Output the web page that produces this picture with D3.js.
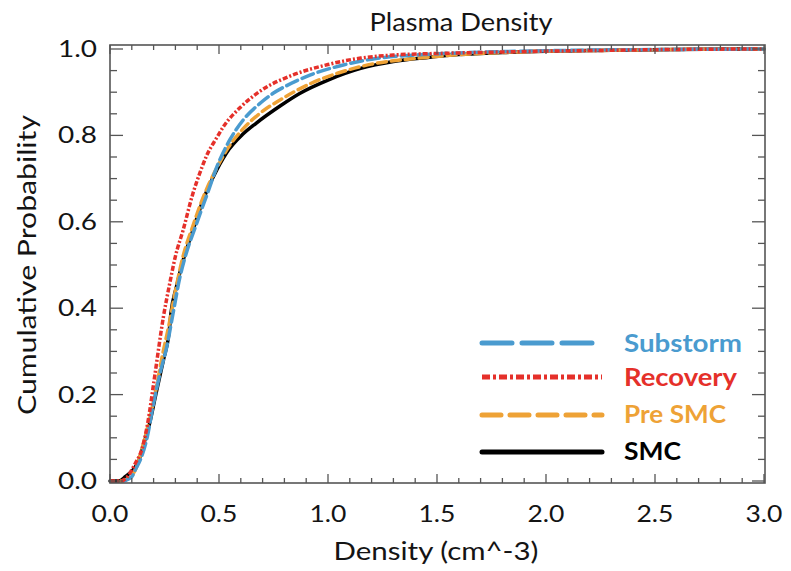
<!DOCTYPE html>
<html><head><meta charset="utf-8">
<script src="https://cdn.jsdelivr.net/npm/d3@7"></script>
<style>
body{margin:0;background:#fff;}
text{font-family:Lato,"Open Sans",sans-serif;}
</style></head>
<body><svg id="c" width="791" height="571"></svg>
<script>
const seriesNames = ["SMC","Pre SMC","Substorm","Recovery"];
const smcX = [0,0.04,0.07,0.13,0.16,0.18,0.21,0.245,0.27,0.28,0.305,0.335,0.38,0.427,0.47,0.535,0.61,0.67,0.78,0.87,1.0,1.15,1.3,1.45,1.6,1.8,2.0,2.3,2.6,3.0];
const smcP = [0,0,0.01,0.045,0.095,0.13,0.20,0.28,0.34,0.39,0.45,0.51,0.58,0.65,0.70,0.76,0.803,0.828,0.868,0.897,0.928,0.955,0.971,0.98,0.987,0.992,0.995,0.997,0.999,1.0];
const preX = [0.05,0.08,0.12,0.15,0.18,0.21,0.24,0.27,0.30,0.335,0.38,0.43,0.48,0.54,0.61,0.69,0.78,0.92,1.05,1.2,1.4,1.6,1.8,2.0,2.3,2.6,3.0];
const preP = [0,0.005,0.03,0.08,0.14,0.21,0.29,0.36,0.44,0.52,0.59,0.66,0.715,0.77,0.815,0.852,0.882,0.92,0.945,0.965,0.978,0.987,0.992,0.995,0.997,0.999,1.0];
const subX = [0.06,0.1,0.12,0.14,0.17,0.20,0.23,0.26,0.29,0.32,0.34,0.40,0.45,0.49,0.55,0.61,0.69,0.75,0.81,0.92,1.07,1.22,1.4,1.6,1.8,2.0,2.3,2.6,3.0];
const subP = [0,0.01,0.03,0.05,0.10,0.18,0.25,0.31,0.39,0.47,0.51,0.60,0.67,0.727,0.79,0.835,0.875,0.898,0.915,0.94,0.963,0.978,0.986,0.991,0.994,0.996,0.998,0.999,1.0];
const recX = [0,0.05,0.08,0.115,0.147,0.175,0.2,0.245,0.275,0.30,0.335,0.38,0.41,0.445,0.49,0.52,0.6,0.69,0.84,1.0,1.15,1.3,1.53,1.8,2.0,2.3,2.6,3.0];
const recP = [0,0,0.01,0.04,0.075,0.14,0.225,0.38,0.46,0.52,0.58,0.665,0.71,0.755,0.795,0.82,0.866,0.903,0.94,0.964,0.979,0.986,0.99,0.993,0.995,0.997,0.999,1.0];
const xTicks = [0,0.5,1.0,1.5,2.0,2.5,3.0];
const yTicks = [0,0.2,0.4,0.6,0.8,1.0];

(function(){
const svg = d3.select("#c");
const x = d3.scaleLinear().domain([0,3]).range([110,764]);
const y = d3.scaleLinear().domain([0,1]).range([481,49]);
const fTop = 45, fBottom = 483, fLeft = 110, fRight = 765;

const styles = {
  "SMC": {color:"#000000", dash:null, legDash:null, cap:"round", text:"#000000"},
  "Pre SMC": {color:"#EEA236", dash:"9,5", legDash:"19,9", cap:"round", text:"#EEA236"},
  "Substorm": {color:"#4A9BCF", dash:"12,5", legDash:"30,10", cap:"round", text:"#4A9BCF"},
  "Recovery": {color:"#E5302A", dash:"5,2,2,2", legDash:"8,3,3,3", cap:"butt", text:"#E5302A"}
};
const data = {
  "SMC": d3.zip(smcX, smcP),
  "Pre SMC": d3.zip(preX, preP),
  "Substorm": d3.zip(subX, subP),
  "Recovery": d3.zip(recX, recP)
};

const line = d3.line().x(d=>x(d[0])).y(d=>y(d[1])).curve(d3.curveMonotoneX);
seriesNames.forEach(n=>{
  const s = styles[n];
  svg.append("path").attr("d", line(data[n])).attr("fill","none")
    .attr("stroke", s.color).attr("stroke-width", 3.5)
    .attr("stroke-dasharray", s.dash).attr("stroke-linecap", s.cap);
});

svg.append("rect").attr("x",fLeft).attr("y",fTop).attr("width",fRight-fLeft).attr("height",fBottom-fTop)
  .attr("fill","none").attr("stroke","#555").attr("stroke-width",1.6);

const tg = svg.append("g").attr("stroke","#555").attr("stroke-width",1.3);
d3.range(0,31).forEach(i=>{
  const v = i/10, L = i%5===0?9:5;
  tg.append("line").attr("x1",x(v)).attr("x2",x(v)).attr("y1",fBottom).attr("y2",fBottom-L);
  tg.append("line").attr("x1",x(v)).attr("x2",x(v)).attr("y1",fTop).attr("y2",fTop+L);
});
d3.range(0,21).forEach(i=>{
  const v = i/20, L = i%4===0?13:7;
  tg.append("line").attr("y1",y(v)).attr("y2",y(v)).attr("x1",fLeft).attr("x2",fLeft+L);
  tg.append("line").attr("y1",y(v)).attr("y2",y(v)).attr("x1",fRight).attr("x2",fRight-L);
});

const txt = "#141414";
svg.append("g").selectAll("text").data(xTicks).join("text")
  .attr("x",d=>x(d)).attr("y",522).attr("text-anchor","middle")
  .attr("font-size",24).attr("fill",txt)
  .attr("textLength",37).attr("lengthAdjust","spacingAndGlyphs").text(d=>d.toFixed(1));
svg.append("g").selectAll("text").data(yTicks).join("text")
  .attr("x",97).attr("y",d=>y(d)+8).attr("text-anchor","end")
  .attr("font-size",24).attr("fill",txt)
  .attr("textLength",39).attr("lengthAdjust","spacingAndGlyphs").text(d=>d.toFixed(1));

svg.append("text").attr("x",461).attr("y",31).attr("text-anchor","middle")
  .attr("font-size",25).attr("fill",txt)
  .attr("textLength",183).attr("lengthAdjust","spacingAndGlyphs").text("Plasma Density");
svg.append("text").attr("x",436).attr("y",560).attr("text-anchor","middle")
  .attr("font-size",25).attr("fill",txt)
  .attr("textLength",205).attr("lengthAdjust","spacingAndGlyphs").text("Density (cm^-3)");
svg.append("text").attr("transform","translate(36,265) rotate(-90)").attr("text-anchor","middle")
  .attr("font-size",25).attr("fill",txt)
  .attr("textLength",300).attr("lengthAdjust","spacingAndGlyphs").text("Cumulative Probability");

const legOrder = ["Substorm","Recovery","Pre SMC","SMC"];
const legLineY = [343,377,415,452];
const legTextY = [352,386,423,460];
const legW = [118,113,102,57];
legOrder.forEach((n,i)=>{
  const s = styles[n];
  svg.append("line").attr("x1",482).attr("x2",602).attr("y1",legLineY[i]).attr("y2",legLineY[i])
    .attr("stroke",s.color).attr("stroke-width",5).attr("stroke-linecap",s.cap)
    .attr("stroke-dasharray",s.legDash);
  svg.append("text").attr("x",624).attr("y",legTextY[i]).attr("font-size",25)
    .attr("font-weight","bold").attr("fill",s.text)
    .attr("textLength",legW[i]).attr("lengthAdjust","spacingAndGlyphs").text(n);
});
})();
</script></body></html>
